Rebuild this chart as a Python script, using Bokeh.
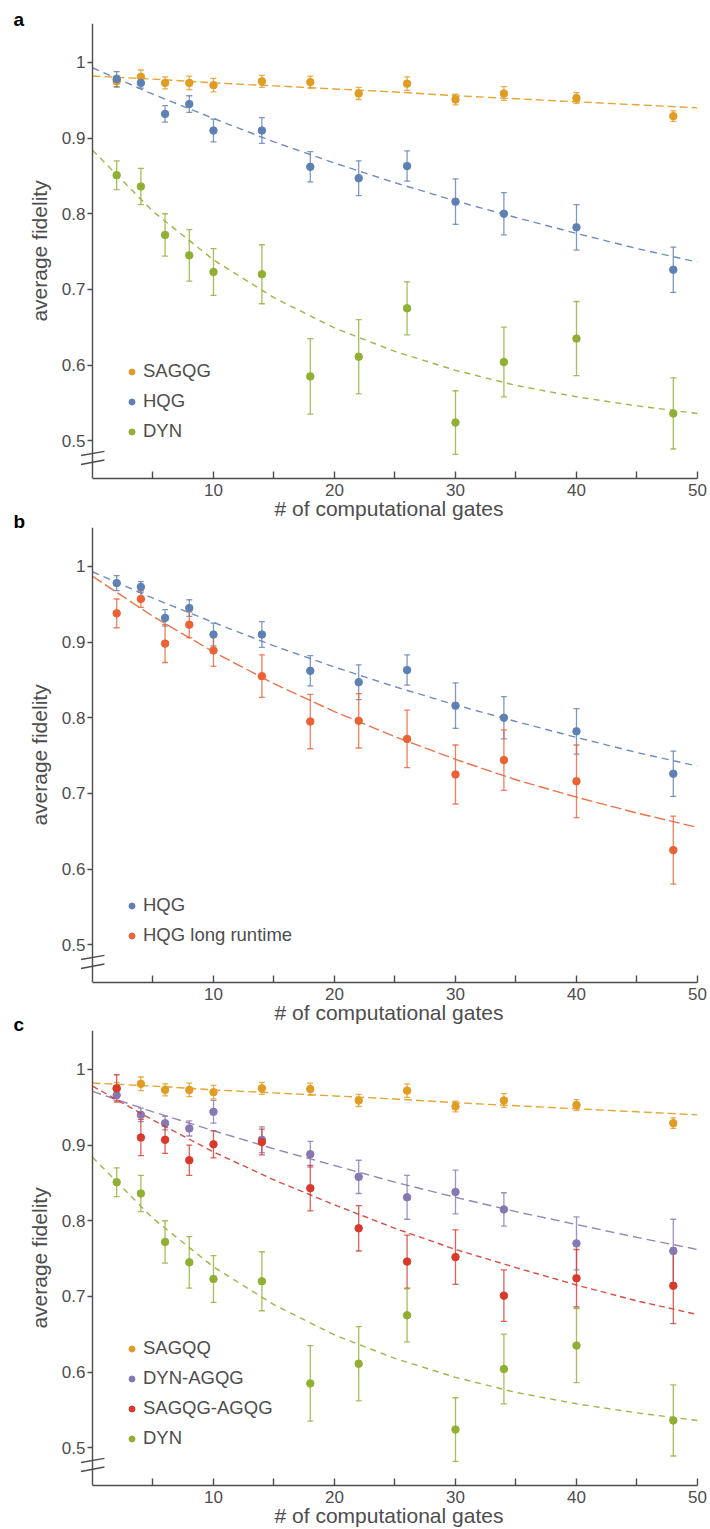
from bokeh.plotting import figure
from bokeh.models import (ColumnDataSource, Whisker, TeeHead, Legend, LegendItem,
                          FixedTicker, Range1d, Title, LinearAxis)
from bokeh.layouts import column
from bokeh.embed import file_html
from bokeh.resources import INLINE

# ---------------- data ----------------
gates = [2, 4, 6, 8, 10, 14, 18, 22, 26, 30, 34, 40, 48]

sagqg = [0.975, 0.981, 0.973, 0.973, 0.970, 0.975, 0.974, 0.959, 0.972, 0.951, 0.959, 0.953, 0.929]
sagqg_err = [0.008, 0.009, 0.008, 0.009, 0.009, 0.008, 0.008, 0.008, 0.009, 0.007, 0.009, 0.007, 0.007]

hqg = [0.978, 0.973, 0.932, 0.945, 0.910, 0.910, 0.862, 0.847, 0.863, 0.816, 0.800, 0.782, 0.726]
hqg_err = [0.010, 0.007, 0.011, 0.011, 0.015, 0.017, 0.020, 0.023, 0.020, 0.030, 0.028, 0.030, 0.030]

dyn = [0.851, 0.836, 0.772, 0.745, 0.723, 0.720, 0.585, 0.611, 0.675, 0.524, 0.604, 0.635, 0.536]
dyn_err = [0.019, 0.024, 0.028, 0.034, 0.031, 0.039, 0.050, 0.049, 0.035, 0.042, 0.046, 0.049, 0.047]

hqg_long = [0.938, 0.957, 0.898, 0.923, 0.889, 0.855, 0.795, 0.796, 0.772, 0.725, 0.744, 0.716, 0.625]
hqg_long_err = [0.019, 0.011, 0.025, 0.017, 0.021, 0.028, 0.036, 0.036, 0.038, 0.039, 0.040, 0.048, 0.045]

dyn_agqg = [0.966, 0.940, 0.929, 0.922, 0.944, 0.907, 0.888, 0.858, 0.831, 0.838, 0.815, 0.770, 0.760]
dyn_agqg_err = [0.007, 0.009, 0.009, 0.010, 0.015, 0.017, 0.017, 0.022, 0.029, 0.029, 0.022, 0.035, 0.042]

sagqg_agqg = [0.975, 0.910, 0.907, 0.880, 0.901, 0.904, 0.843, 0.790, 0.746, 0.752, 0.701, 0.724, 0.714]
sagqg_agqg_err = [0.018, 0.024, 0.018, 0.020, 0.018, 0.017, 0.030, 0.030, 0.035, 0.036, 0.034, 0.038, 0.050]

# fitted decay curves
fit_x = [0, 5, 10, 15, 20, 25, 30, 35, 40, 45, 50]
fit_sagqg = [0.982, 0.978, 0.973, 0.969, 0.965, 0.961, 0.956, 0.952, 0.948, 0.944, 0.940]
fit_hqg = [0.993, 0.958, 0.926, 0.895, 0.867, 0.841, 0.817, 0.795, 0.774, 0.754, 0.736]
fit_dyn = [0.884, 0.803, 0.739, 0.689, 0.649, 0.618, 0.593, 0.573, 0.558, 0.546, 0.536]
fit_hqg_long = [0.987, 0.934, 0.887, 0.845, 0.808, 0.775, 0.745, 0.718, 0.695, 0.674, 0.655]
fit_dyn_agqg = [0.971, 0.944, 0.919, 0.895, 0.873, 0.851, 0.831, 0.812, 0.795, 0.778, 0.762]
fit_sagqg_agqg = [0.978, 0.933, 0.891, 0.854, 0.821, 0.790, 0.762, 0.738, 0.715, 0.694, 0.676]

x_ticks = [5, 10, 15, 20, 25, 30, 35, 40, 45, 50]
x_tick_labels = ["", "10", "", "20", "", "30", "", "40", "", "50"]
y_ticks = [0.5, 0.6, 0.7, 0.8, 0.9, 1.0]
y_tick_labels = ["0.5", "0.6", "0.7", "0.8", "0.9", "1"]

x_title = "# of computational gates"
y_title = "average fidelity"

# axis-break marks ("//") across the y axis, in data units
break_x0 = [-0.95, -0.95]
break_x1 = [0.99, 0.99]
break_y0 = [0.4804, 0.4685]
break_y1 = [0.4858, 0.4745]

# ---------------- style ----------------
FONT = "Liberation Sans"
TXT = "#4d4d4d"
ORANGE = "#E19C24"
BLUE = "#5E81B5"
GREEN = "#8FB032"
REDORANGE = "#EB6235"
PURPLE = "#8778B3"
RED = "#D8392B"


def make_fig(height, top, bottom, letter, letter_standoff, margin_top):
    p = figure(width=710, height=height, x_range=Range1d(-0.99, 50), y_range=Range1d(0.45, 1.0515),
               output_backend="svg", toolbar_location=None,
               min_border_left=80, min_border_right=13, min_border_top=top, min_border_bottom=bottom,
               outline_line_color=None, background_fill_color=None,
               border_fill_color=None, margin=(margin_top, 0, 0, 0))
    p.grid.visible = False
    p.xaxis.ticker = FixedTicker(ticks=x_ticks)
    p.xaxis.major_label_overrides = dict(zip(x_ticks, x_tick_labels))
    p.xaxis.bounds = (0, 50)
    p.yaxis.ticker = FixedTicker(ticks=y_ticks)
    p.yaxis.major_label_overrides = dict(zip(y_ticks, y_tick_labels))
    p.xaxis.axis_label = x_title
    p.yaxis.axis_label = y_title
    for ax in p.axis:
        ax.axis_line_color = TXT
        ax.axis_line_width = 1.4
        ax.major_tick_line_color = TXT
        ax.major_tick_line_width = 1.4
        ax.minor_tick_line_color = None
        ax.major_label_text_font = FONT
        ax.major_label_text_font_size = "17px"
        ax.major_label_text_color = TXT
        ax.axis_label_text_font = FONT
        ax.axis_label_text_font_size = "21px"
        ax.axis_label_text_font_style = "normal"
        ax.axis_label_text_color = TXT
    p.xaxis.major_tick_in = 7
    p.xaxis.major_tick_out = 0
    p.xaxis.major_label_standoff = 5
    p.xaxis.axis_label_standoff = -2
    # labelled y axis at the frame edge: only labels (line and ticks come from the axis at x = 0)
    p.yaxis.axis_line_color = None
    p.yaxis.major_tick_line_color = None
    p.yaxis.major_tick_in = 0
    p.yaxis.major_tick_out = 0
    p.yaxis.major_label_standoff = -5
    p.yaxis.axis_label_standoff = 8
    # y-axis line and ticks at x = 0
    yline = LinearAxis(fixed_location=0, ticker=FixedTicker(ticks=y_ticks),
                       axis_line_color=TXT, axis_line_width=1.4,
                       major_tick_line_color=TXT, major_tick_line_width=1.4,
                       major_tick_in=0, major_tick_out=5, minor_tick_line_color=None,
                       major_label_text_font_size="0px", major_label_text_alpha=0)
    p.add_layout(yline, "left")
    p.segment(break_x0, break_y0, break_x1, break_y1, line_color=TXT, line_width=1.4)
    p.add_layout(Title(text=letter, align="left", offset=-67, standoff=letter_standoff,
                       text_font=FONT, text_font_style="bold", text_font_size="19px",
                       text_color="black"), "above")
    return p


def add_series(p, y, err, fit, color, dash):
    p.line(fit_x, fit, line_color=color, line_width=1.4, line_dash=dash, line_alpha=0.9)
    src = ColumnDataSource(dict(x=gates, y=y,
                                upper=[v + e for v, e in zip(y, err)],
                                lower=[v - e for v, e in zip(y, err)]))
    head = dict(size=6, line_color=color, line_width=1.3, line_alpha=0.8)
    p.add_layout(Whisker(base="x", upper="upper", lower="lower", source=src,
                         line_color=color, line_width=1.3, line_alpha=0.8,
                         upper_head=TeeHead(**head), lower_head=TeeHead(**head)))
    r = p.scatter("x", "y", source=src, size=7.5, fill_color=color, line_color=color)
    return r


def add_legend(p, items):
    legend = Legend(items=[LegendItem(label=lab, renderers=[r]) for lab, r in items],
                    location=(44, 34), orientation="vertical", padding=0, margin=0, spacing=4,
                    glyph_height=15, glyph_width=15, label_height=26, label_standoff=4,
                    label_text_font=FONT, label_text_font_size="18.5px", label_text_color=TXT,
                    border_line_alpha=0, background_fill_alpha=0)
    p.add_layout(legend)


# ---------------- panel a ----------------
pa = make_fig(527, 23, 49, "a", -12, 0)
ra1 = add_series(pa, sagqg, sagqg_err, fit_sagqg, ORANGE, "8 4")
ra2 = add_series(pa, hqg, hqg_err, fit_hqg, BLUE, "7 5")
ra3 = add_series(pa, dyn, dyn_err, fit_dyn, GREEN, "6 5")
add_legend(pa, [("SAGQG", ra1), ("HQG", ra2), ("DYN", ra3)])

# ---------------- panel b ----------------
pb = make_fig(518, 15, 48, "b", -8, -15)
rb1 = add_series(pb, hqg, hqg_err, fit_hqg, BLUE, "7 5")
rb2 = add_series(pb, hqg_long, hqg_long_err, fit_hqg_long, REDORANGE, "11 4")
add_legend(pb, [("HQG", rb1), ("HQG long runtime", rb2)])

# ---------------- panel c ----------------
pc = make_fig(517, 15, 47, "c", -8, -15)
rc1 = add_series(pc, sagqg, sagqg_err, fit_sagqg, ORANGE, "8 4")
rc2 = add_series(pc, dyn_agqg, dyn_agqg_err, fit_dyn_agqg, PURPLE, "9 5")
rc3 = add_series(pc, sagqg_agqg, sagqg_agqg_err, fit_sagqg_agqg, RED, "6 4")
rc4 = add_series(pc, dyn, dyn_err, fit_dyn, GREEN, "6 5")
add_legend(pc, [("SAGQQ", rc1), ("DYN-AGQG", rc2), ("SAGQG-AGQG", rc3), ("DYN", rc4)])

layout = column(pa, pb, pc, spacing=0)
open("out.html", "w").write(file_html(layout, INLINE))
